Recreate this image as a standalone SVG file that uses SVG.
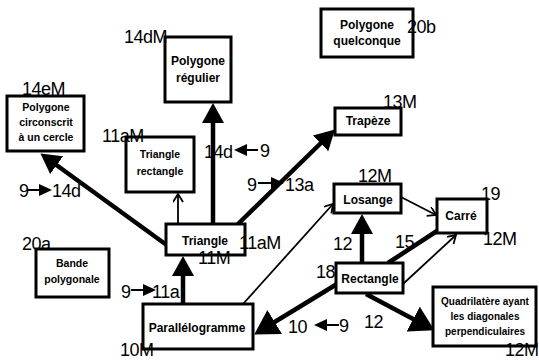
<svg xmlns="http://www.w3.org/2000/svg" width="539" height="361" viewBox="0 0 539 361">
<defs>
<style>
.box{fill:#fff;stroke:#000;stroke-width:3}
.t{font-family:"Liberation Sans",Arial,sans-serif;font-weight:bold;font-size:12px;text-anchor:middle;fill:#000}
.ts{font-size:10.5px}
.tq{font-size:10px}
.lab{font-family:"Liberation Sans",Arial,sans-serif;font-size:18px;fill:#000;letter-spacing:-0.5px}
.thick{stroke:#000;stroke-width:4.5;fill:none}
.thin{stroke:#000;stroke-width:1.8;fill:none}
.ann{stroke:#000;stroke-width:2;fill:none}
</style>
<marker id="big" markerUnits="userSpaceOnUse" markerWidth="22" markerHeight="22" refX="2" refY="11" orient="auto">
<path d="M0,0 L20,11 L0,22 z" fill="#000"/>
</marker>
<marker id="huge" markerUnits="userSpaceOnUse" markerWidth="26" markerHeight="28" refX="2" refY="14" orient="auto">
<path d="M0,0 L24,14 L0,28 z" fill="#000"/>
</marker>
<marker id="open" markerUnits="userSpaceOnUse" markerWidth="12" markerHeight="12" refX="9" refY="5" orient="auto">
<path d="M1,0 L9,5 L1,10" fill="none" stroke="#000" stroke-width="1.8"/>
</marker>
<marker id="small" markerUnits="userSpaceOnUse" markerWidth="14" markerHeight="14" refX="1" refY="6" orient="auto">
<path d="M0,0 L13,6 L0,12 z" fill="#000"/>
</marker>
</defs>
<rect width="539" height="361" fill="#fff"/>

<g id="connectors">
<line class="thick" x1="168" y1="246" x2="55" y2="164" marker-end="url(#big)"/>
<line class="thick" x1="213" y1="224" x2="213" y2="121" marker-end="url(#big)"/>
<line class="thin" x1="178" y1="224" x2="178" y2="194" marker-end="url(#open)"/>
<line class="thick" x1="238" y1="224" x2="322" y2="142" marker-end="url(#big)"/>
<line class="thick" x1="183" y1="304" x2="183" y2="274" marker-end="url(#big)"/>
<line class="thin" x1="243" y1="304" x2="333" y2="204" marker-end="url(#open)"/>
<line class="thick" x1="337" y1="284" x2="273" y2="323" marker-end="url(#huge)"/>
<line class="thick" x1="362" y1="263" x2="362" y2="232" marker-end="url(#big)"/>
<line class="thick" x1="388" y1="263" x2="440" y2="229"/>
<line class="thin" x1="403" y1="284" x2="456" y2="235" marker-end="url(#open)"/>
<line class="thin" x1="401" y1="197" x2="436" y2="215" marker-end="url(#open)"/>
<line class="thick" x1="366" y1="294" x2="415" y2="320" marker-end="url(#huge)"/>
</g>

<g id="annotations">
<line class="ann" x1="28" y1="190" x2="40" y2="190" marker-end="url(#small)"/>
<text class="lab" x="19" y="197">9</text>
<text class="lab" x="52" y="197">14d</text>
<line class="ann" x1="258" y1="150" x2="246" y2="150" marker-end="url(#small)"/>
<text class="lab" x="204" y="158">14d</text>
<text class="lab" x="260" y="157">9</text>
<line class="ann" x1="258" y1="183" x2="272" y2="183" marker-end="url(#small)"/>
<text class="lab" x="247" y="191">9</text>
<text class="lab" x="285" y="191">13a</text>
<line class="ann" x1="131" y1="290" x2="144" y2="290" marker-end="url(#small)"/>
<text class="lab" x="121" y="298">9</text>
<text class="lab" x="152" y="298">11a</text>
<line class="ann" x1="339" y1="325" x2="326" y2="325" marker-end="url(#small)"/>
<text class="lab" x="288" y="333">10</text>
<text class="lab" x="339" y="332">9</text>
<text class="lab" x="333" y="250">12</text>
<text class="lab" x="395" y="248">15</text>
<text class="lab" x="364" y="328">12</text>
</g>

<g id="polygone-circonscrit">
<rect class="box" x="7" y="96" width="77" height="55"/>
<text class="t ts" x="46" y="111">Polygone</text>
<text class="t ts" x="46" y="126">circonscrit</text>
<text class="t ts" x="46" y="141">à un cercle</text>
<text class="lab" x="22" y="95">14eM</text>
</g>

<g id="polygone-regulier">
<rect class="box" x="165" y="37" width="66" height="65"/>
<text class="t" x="198" y="65">Polygone</text>
<text class="t" x="198" y="82">régulier</text>
<text class="lab" x="124" y="43">14dM</text>
</g>

<g id="polygone-quelconque">
<rect class="box" x="321" y="9" width="92" height="48"/>
<text class="t" x="367" y="29">Polygone</text>
<text class="t" x="367" y="45">quelconque</text>
<text class="lab" x="407" y="33">20b</text>
</g>

<g id="trapeze">
<rect class="box" x="335" y="108" width="66" height="27"/>
<text class="t" x="368" y="125">Trapèze</text>
<text class="lab" x="383" y="108">13M</text>
</g>

<g id="triangle-rectangle">
<rect class="box" x="126" y="137" width="68" height="55"/>
<text class="t ts" x="160" y="158">Triangle</text>
<text class="t ts" x="160" y="175">rectangle</text>
<text class="lab" x="102" y="142">11aM</text>
</g>

<g id="triangle">
<rect class="box" x="166" y="224" width="79" height="31"/>
<text class="t" x="205" y="245">Triangle</text>
<text class="lab" x="239" y="249">11aM</text>
<text class="lab" x="198" y="264">11M</text>
</g>

<g id="bande-polygonale">
<rect class="box" x="36" y="249" width="73" height="48"/>
<text class="t ts" x="72" y="267">Bande</text>
<text class="t ts" x="72" y="283">polygonale</text>
<text class="lab" x="22" y="250">20a</text>
</g>

<g id="parallelogramme">
<rect class="box" x="143" y="304" width="110" height="45"/>
<text class="t" x="197" y="332">Parallélogramme</text>
<text class="lab" x="120" y="356">10M</text>
</g>

<g id="losange">
<rect class="box" x="334" y="184" width="67" height="29"/>
<text class="t" x="368" y="204">Losange</text>
<text class="lab" x="358" y="182">12M</text>
</g>

<g id="carre">
<rect class="box" x="437" y="199" width="50" height="34"/>
<text class="t" x="461" y="220">Carré</text>
<text class="lab" x="481" y="200">19</text>
<text class="lab" x="483" y="245">12M</text>
</g>

<g id="rectangle">
<rect class="box" x="336" y="263" width="67" height="30"/>
<text class="t" x="370" y="283">Rectangle</text>
<text class="lab" x="316" y="278">18</text>
</g>

<g id="quadrilatere">
<rect class="box" x="433" y="287" width="103" height="59"/>
<text class="t tq" x="485" y="305">Quadrilatère ayant</text>
<text class="t tq" x="485" y="320">les diagonales</text>
<text class="t tq" x="485" y="335">perpendiculaires</text>
<text class="lab" x="505" y="356">12M</text>
</g>
</svg>
